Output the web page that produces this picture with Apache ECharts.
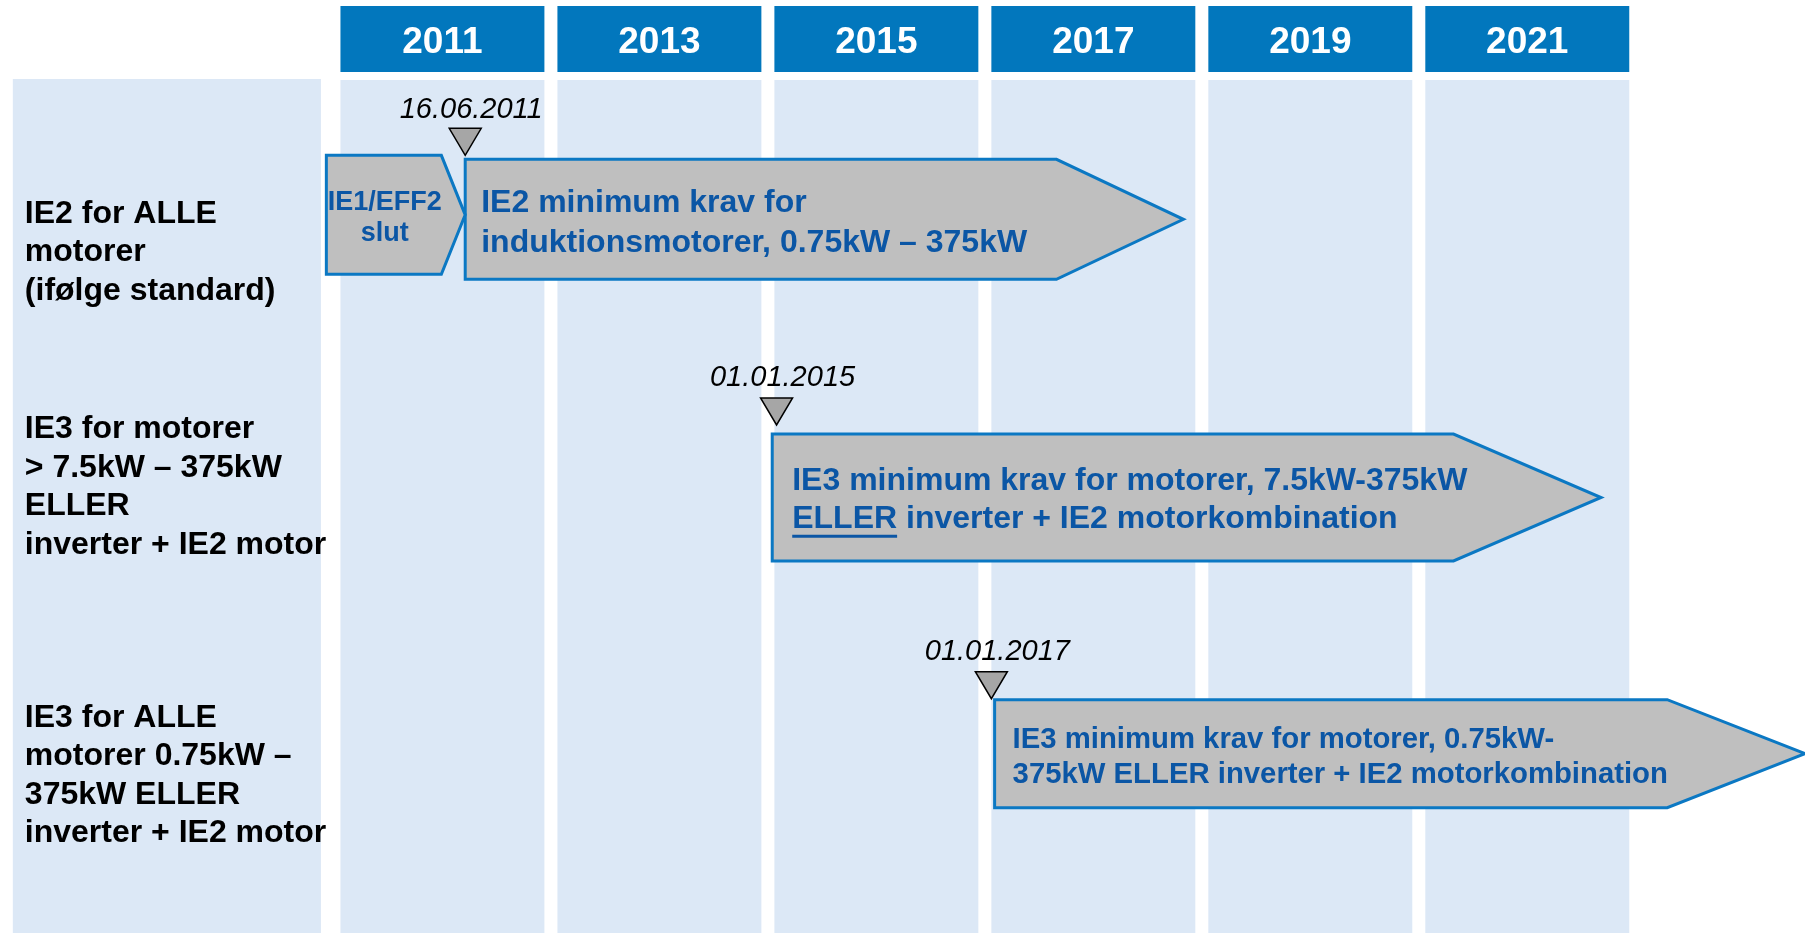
<!DOCTYPE html>
<html><head><meta charset="utf-8">
<script src="https://cdn.jsdelivr.net/npm/echarts@6/dist/echarts.min.js"></script>
<style>html,body{margin:0;padding:0;background:#fff}#c{width:1805px;height:933px}</style>
</head><body><div id="c"></div>
<script>
// ---------------- data ----------------
const years = [2011, 2013, 2015, 2017, 2019, 2021];
const yearLabels = ['2011', '2013', '2015', '2017', '2019', '2021'];
const rowKeys = ['IE2', 'IE3a', 'IE3b'];
const rowLabels = [
  'IE2 for ALLE\nmotorer\n(ifølge standard)',
  'IE3 for motorer\n> 7.5kW – 375kW\nELLER\ninverter + IE2 motor',
  'IE3 for ALLE\nmotorer 0.75kW –\n375kW ELLER\ninverter + IE2 motor'
];
const milestoneDates = ['16.06.2011', '01.01.2015', '01.01.2017'];
const milestonePos = [2012.15, 2015.02, 2017.0];      // position on the (schematic) timeline
const phaseStart = [2012.15, 2014.98, 2017.03];
const phaseBodyEnd = [2017.6, 2021.26, 2023.23];
const phaseTip = [2018.77, 2022.62, 2024.5];
const phaseText = [
  'IE2 minimum krav for\ninduktionsmotorer, 0.75kW – 375kW',
  'IE3 minimum krav for motorer, 7.5kW-375kW\nELLER inverter + IE2 motorkombination',
  'IE3 minimum krav for motorer, 0.75kW-\n375kW ELLER inverter + IE2 motorkombination'
];
const underlinedWord = ['', 'ELLER', ''];
const prePhaseLabel = 'IE1/EFF2\nslut';
const prePhaseStart = [2010.87];
const prePhaseBodyEnd = [2011.93];
const prePhaseTip = [2012.15];
const columnSpan = 1.88;           // width of a year column on the axis (years)
const panelRange = [2007.98, 2010.82];

// ---------------- layout / style ----------------
const FONT = '"Liberation Sans", Arial, Helvetica, sans-serif';
const C = {
  body: '#dce8f6', header: '#0277bd', arrowFill: '#bfbfbf', arrowStroke: '#0b78c3',
  arrowText: '#0b56a5', label: '#000000', marker: '#a6a6a6'
};
const L = {
  headerTop: 6, headerHeight: 66, gridTop: 79,
  rows: [
    { top: -62, bottom: 58, markerBottom: -66, label: 31, dateDy: 2, textDy: 4, lh: 40, size: 32, pad: 16 },
    { top: -72, bottom: 55, markerBottom: -81, label: -19, dateDy: 0, textDy: 3, lh: 38, size: 32, pad: 20 },
    { top: -91, bottom: 17, markerBottom: -92, label: -15, dateDy: 0, textDy: 4, lh: 35, size: 29.3, pad: 18 }
  ],
  pre: { top: -66, bottom: 53 }
};

const measureCtx = document.createElement('canvas').getContext('2d');
function textWidth(t, size) {
  measureCtx.font = 'bold ' + size + 'px ' + FONT;
  return measureCtx.measureText(t).width;
}

const chart = echarts.init(document.getElementById('c'), null, { renderer: 'canvas' });

function columnsItem(params, api) {
  const cs = params.coordSys;
  const y0 = api.value(0);
  const a = api.coord([y0, 0])[0];
  const b = api.coord([y0 + columnSpan, 0])[0];
  return {
    type: 'group',
    children: [
      { type: 'rect', shape: { x: a, y: L.headerTop, width: b - a, height: L.headerHeight },
        style: { fill: C.header } },
      { type: 'text', x: (a + b) / 2, y: L.headerTop + L.headerHeight / 2 + 4,
        style: { text: yearLabels[params.dataIndex], fill: '#fff', fontSize: 37, fontWeight: 'bold',
          fontFamily: FONT, align: 'center', verticalAlign: 'middle' } },
      { type: 'rect', shape: { x: a, y: cs.y + 1, width: b - a, height: cs.height },
        style: { fill: C.body } }
    ]
  };
}

function panelItem(params, api) {
  const cs = params.coordSys;
  const a = api.coord([api.value(0), 0])[0];
  const b = api.coord([api.value(1), 0])[0];
  return { type: 'rect', shape: { x: a, y: cs.y, width: b - a, height: cs.height }, style: { fill: C.body } };
}

function labelItem(params, api) {
  const r = api.value(1);
  const p = api.coord([api.value(0), r]);
  return { type: 'text', x: p[0] + 12, y: p[1] + L.rows[r].label,
    style: { text: rowLabels[r], fill: C.label, fontSize: 32, fontWeight: 'bold', fontFamily: FONT,
      lineHeight: 38.5, align: 'left', verticalAlign: 'middle' } };
}

function arrowItem(params, api) {
  const r = api.value(0);
  const lay = L.rows[r];
  const c = api.coord([api.value(1), r]);
  const xb = api.coord([api.value(2), r])[0];
  const xt = api.coord([api.value(3), r])[0];
  const top = c[1] + lay.top, bot = c[1] + lay.bottom, mid = (top + bot) / 2;
  const tx = c[0] + lay.pad, ty = mid + lay.textDy;
  const children = [
    { type: 'polygon', shape: { points: [[c[0], top], [xb, top], [xt, mid], [xb, bot], [c[0], bot]] },
      style: { fill: C.arrowFill, stroke: C.arrowStroke, lineWidth: 3, lineJoin: 'miter' } },
    { type: 'text', x: tx, y: ty,
      style: { text: phaseText[r], fill: C.arrowText, fontSize: lay.size, fontWeight: 'bold', fontFamily: FONT,
        lineHeight: lay.lh, align: 'left', verticalAlign: 'middle' } }
  ];
  const w = underlinedWord[r];
  if (w) {
    const uw = textWidth(w, lay.size);
    const uy = ty + lay.lh / 2 + lay.size * 0.52;
    children.push({ type: 'line', shape: { x1: tx, y1: uy, x2: tx + uw, y2: uy },
      style: { stroke: C.arrowText, lineWidth: 3 } });
  }
  return { type: 'group', children };
}

function preArrowItem(params, api) {
  const r = api.value(0);
  const c = api.coord([api.value(1), r]);
  const xb = api.coord([api.value(2), r])[0];
  const xt = api.coord([api.value(3), r])[0];
  const top = c[1] + L.pre.top, bot = c[1] + L.pre.bottom, mid = (top + bot) / 2;
  return { type: 'group', children: [
    { type: 'polygon', shape: { points: [[c[0], top], [xb, top], [xt, mid], [xb, bot], [c[0], bot]] },
      style: { fill: C.arrowFill, stroke: C.arrowStroke, lineWidth: 3, lineJoin: 'miter' } },
    { type: 'text', x: (c[0] + xb) / 2 + 1, y: mid + 3,
      style: { text: prePhaseLabel, fill: C.arrowText, fontSize: 27, fontWeight: 'bold', fontFamily: FONT,
        lineHeight: 31, align: 'center', verticalAlign: 'middle' } }
  ] };
}

function markerItem(params, api) {
  const r = api.value(0);
  const p = api.coord([api.value(1), r]);
  const bottom = p[1] + L.rows[r].markerBottom;
  const h = 27, hw = 16;
  return { type: 'group', children: [
    { type: 'polygon', shape: { points: [[p[0] - hw, bottom - h], [p[0] + hw, bottom - h], [p[0], bottom]] },
      style: { fill: C.marker, stroke: '#000', lineWidth: 1.5 } },
    { type: 'text', x: p[0] + 6, y: bottom - h - 20 + L.rows[r].dateDy,
      style: { text: milestoneDates[r], fill: '#000', fontSize: 29, fontStyle: 'italic', fontFamily: FONT,
        align: 'center', verticalAlign: 'middle' } }
  ] };
}

chart.setOption({
  backgroundColor: '#ffffff',
  animation: false,
  grid: { left: 15, right: 0, top: L.gridTop, bottom: 0 },
  xAxis: { type: 'value', min: 2008, max: 2024.5, show: false },
  yAxis: { type: 'category', data: rowKeys, inverse: true, show: false },
  series: [
    { type: 'custom', renderItem: panelItem, clip: false, z: 1,
      data: [[panelRange[0], panelRange[1], 0]], encode: { x: [0, 1], y: 2 } },
    { type: 'custom', renderItem: columnsItem, clip: false, z: 1,
      data: years.map(y => [y, 0]), encode: { x: 0, y: 1 } },
    { type: 'custom', renderItem: labelItem, clip: false, z: 2,
      data: rowKeys.map((k, i) => [panelRange[0], i]), encode: { x: 0, y: 1 } },
    { type: 'custom', renderItem: arrowItem, clip: false, z: 3,
      data: rowKeys.map((k, i) => [i, phaseStart[i], phaseBodyEnd[i], phaseTip[i]]), encode: { x: [1, 2, 3], y: 0 } },
    { type: 'custom', renderItem: preArrowItem, clip: false, z: 3,
      data: [[0, prePhaseStart[0], prePhaseBodyEnd[0], prePhaseTip[0]]], encode: { x: [1, 2, 3], y: 0 } },
    { type: 'custom', renderItem: markerItem, clip: false, z: 4,
      data: rowKeys.map((k, i) => [i, milestonePos[i]]), encode: { x: 1, y: 0 } }
  ]
});
</script></body></html>
